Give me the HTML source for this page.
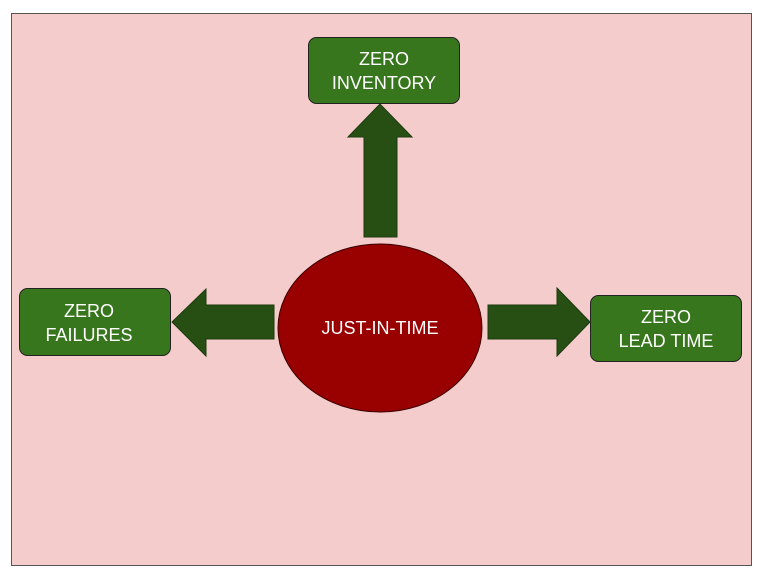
<!DOCTYPE html>
<html><head><style>
body{margin:0;background:#fff;}
svg text{font-family:"Liberation Sans",Arial,sans-serif;fill:#fff;font-size:18px;text-anchor:middle;}
</style></head><body>
<svg width="768" height="576" xmlns="http://www.w3.org/2000/svg">
<rect x="11.5" y="13.5" width="740" height="552" fill="#f4cccc" stroke="#555" stroke-width="1"/>
<rect x="308.5" y="37.5" width="151" height="66" rx="8" fill="#38761d" stroke="#222" stroke-width="1"/>
<text x="384" y="65">ZERO</text><text x="384" y="89">INVENTORY</text>
<rect x="19.5" y="288.5" width="151" height="67" rx="8" fill="#38761d" stroke="#222" stroke-width="1"/>
<text x="89" y="317">ZERO</text><text x="89" y="341">FAILURES</text>
<rect x="590.5" y="295.5" width="151" height="66" rx="8" fill="#38761d" stroke="#222" stroke-width="1"/>
<text x="666" y="323">ZERO</text><text x="666" y="347">LEAD TIME</text>
<polygon points="364,237 397,237 397,137 412,137 380,104 348,137 364,137" fill="#274e13" stroke="#1c3a0e"/>
<polygon points="488,305 557,305 557,288 590,322 557,356 557,339 488,339" fill="#274e13" stroke="#1c3a0e"/>
<polygon points="274,305 206,305 206,289 172,322 206,356 206,339 274,339" fill="#274e13" stroke="#1c3a0e"/>
<ellipse cx="380" cy="328" rx="102" ry="84" fill="#990000" stroke="#3a0000"/>
<text x="380" y="334">JUST-IN-TIME</text>
</svg>
</body></html>
